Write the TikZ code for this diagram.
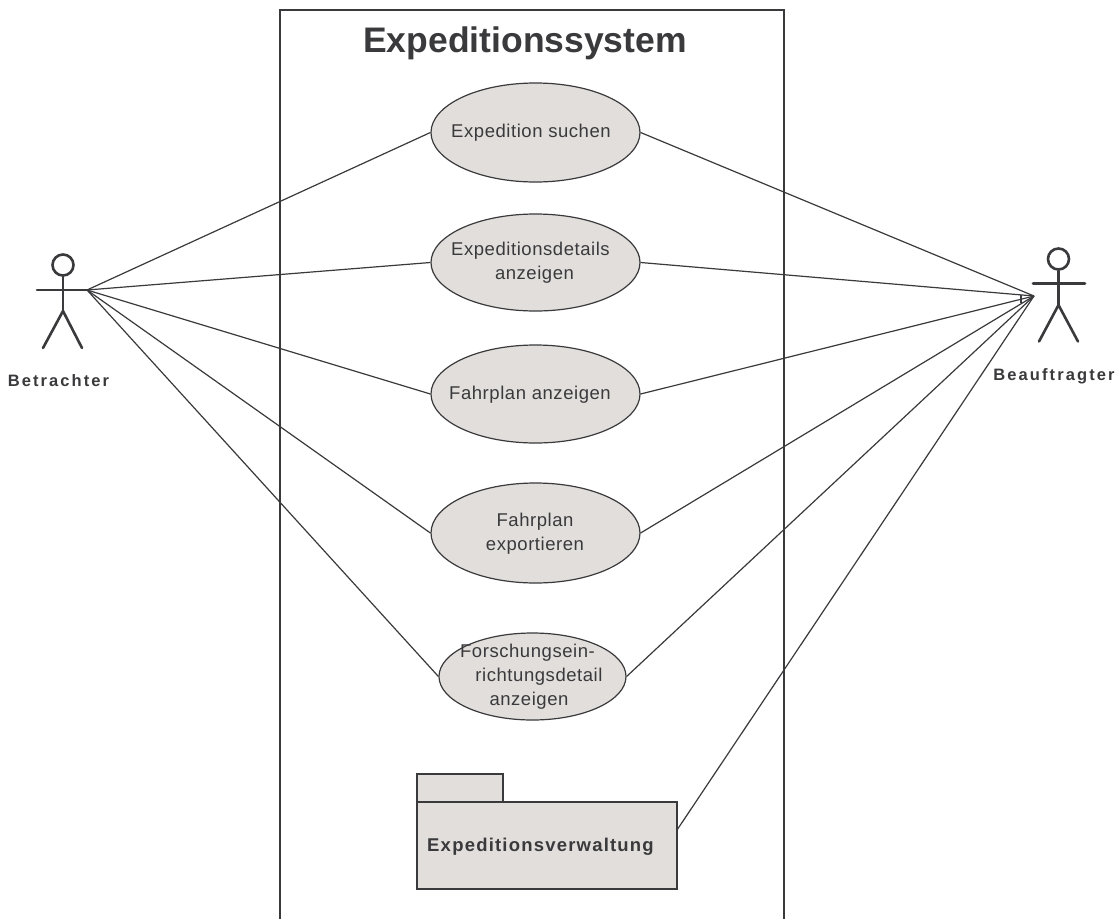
\documentclass[tikz,border=0pt]{standalone}
\usepackage{fontspec}
\setmainfont{Liberation Sans}
\newfontfamily\ucfont[LetterSpace=3]{Liberation Sans}
\newfontfamily\actorfont[LetterSpace=12.7]{Liberation Sans}
\newfontfamily\pkgfont[LetterSpace=6.5]{Liberation Sans}
\definecolor{ink}{HTML}{3A3A3C}
\definecolor{ucfill}{HTML}{E2DEDC}
\usetikzlibrary{shapes.geometric}
\tikzset{
  x=1pt,y=-1pt,
  usecase/.style={draw=ink,fill=ucfill,ellipse,line width=1.2pt,inner sep=0pt},
  uctext/.style={inner sep=0pt,text=ink,align=center,font=\ucfont\fontsize{18.5}{24}\selectfont},
  pkgbox/.style={draw=ink,fill=ucfill,rectangle,line width=1.4pt,inner sep=0pt},
  link/.style={draw=ink,line width=1.2pt},
  frameline/.style={draw=ink,line width=1.1pt},
  stick/.style={draw=ink,line width=2.6pt,line cap=round},
  actorname/.style={text=ink,font=\actorfont\bfseries\fontsize{16.5}{19}\selectfont,inner sep=0pt},
}
\begin{document}
\begin{tikzpicture}
\useasboundingbox (0,0) rectangle (1117,919);
\fill[white] (0,0) rectangle (1117,919);
% system frame
\coordinate (fa) at (280,919);
\coordinate (fb) at (280,10);
\coordinate (fc) at (784,10);
\coordinate (fd) at (784,919);
\draw[frameline] (fa) -- (fb) -- (fc) -- (fd);
\node[text=ink,font=\bfseries\fontsize{35.5}{40}\selectfont,inner sep=0pt] (title) at (525,43) {Expeditionssystem};
% actors
\coordinate (lact) at (87,290);
\coordinate (ract) at (1034,296);
\node[draw=ink,circle,line width=2.6pt,minimum size=21pt,inner sep=0pt] (lhead) at (63,265) {};
\coordinate (lhip) at (63,311);
\coordinate (larmL) at (37,290);
\coordinate (lfootL) at (43,348);
\coordinate (lfootR) at (82,348);
\draw[stick] (lhead.south) -- (lhip);
\draw[stick] (larmL) -- (lact);
\draw[stick] (lfootL) -- (lhip) -- (lfootR);
\node[actorname] (lname) at (58.5,381) {Betrachter};
\node[draw=ink,circle,line width=2.6pt,minimum size=21pt,inner sep=0pt] (rhead) at (1058.5,259) {};
\coordinate (rhip) at (1058.5,305);
\coordinate (rarmL) at (1033,283.5);
\coordinate (rarmR) at (1085,283.5);
\coordinate (rfootL) at (1039,341.5);
\coordinate (rfootR) at (1078,341.5);
\draw[stick] (rhead.south) -- (rhip);
\draw[stick] (rarmL) -- (rarmR);
\draw[stick] (rfootL) -- (rhip) -- (rfootR);
\node[actorname] (rname) at (1054,376) {Beauftragter};
% use cases
\node[usecase,minimum width=209pt,minimum height=99pt] (e1) at (535.5,132.5) {};
\node[usecase,minimum width=209pt,minimum height=97pt] (e2) at (535.5,262.5) {};
\node[usecase,minimum width=209pt,minimum height=98pt] (e3) at (535.5,394) {};
\node[usecase,minimum width=209pt,minimum height=100pt] (e4) at (535.5,533) {};
\node[usecase,minimum width=187pt,minimum height=87pt] (e5) at (532.5,676.5) {};
\node[uctext] (t1) at (531,133) {Expedition suchen};
\node[uctext] (t2) at (532,263) {Expeditionsdetails\hspace*{3pt}\\\hspace*{5pt}anzeigen};
\node[uctext] (t3) at (530,395) {Fahrplan anzeigen};
\node[uctext] (t4) at (535,533.5) {Fahrplan\\exportieren};
\node[uctext] (t5) at (532.5,677) {Forschungsein-\hspace*{10pt}\\\hspace*{13pt}richtungsdetail\\anzeigen\hspace*{7pt}};
% package
\node[pkgbox,minimum width=86pt,minimum height=28pt] (tab) at (460,788) {};
\node[pkgbox,minimum width=260pt,minimum height=87pt] (pkg) at (547,845.5) {};
\node[text=ink,font=\pkgfont\bfseries\fontsize{18.5}{22}\selectfont,inner sep=0pt] (pkgname) at (540.5,847) {Expeditionsverwaltung};
\coordinate (pkgport) at (677,830);
% connectors
\foreach \u in {e1,e2,e3,e4,e5} {
  \draw[link] (lact) -- (\u.west);
  \draw[link] (\u.east) -- (ract);
}
\draw[link] (pkgport) -- (ract);
\coordinate (ticka) at (1021,295);
\coordinate (tickb) at (1021,302.5);
\draw[link] (ticka) -- (tickb);
\end{tikzpicture}
\end{document}
